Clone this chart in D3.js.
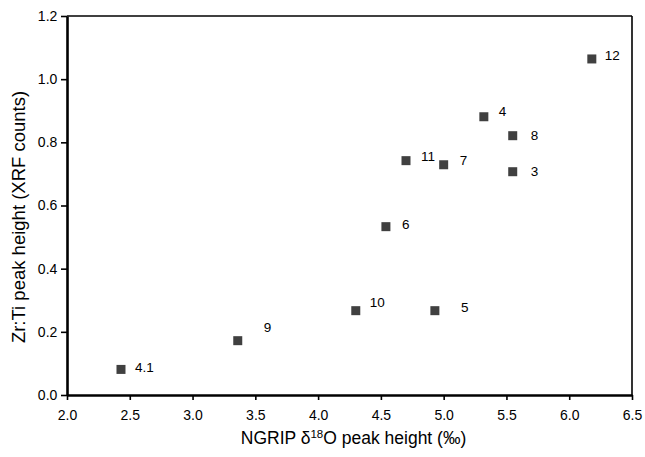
<!DOCTYPE html>
<html><head><meta charset="utf-8">
<script src="https://cdn.jsdelivr.net/npm/d3@7"></script>
<style>
html,body{margin:0;padding:0;background:#fff;}
text{font-family:"Liberation Sans",Arial,Helvetica,sans-serif;fill:#000;}
</style></head>
<body>
<svg id="chart" width="645" height="457"></svg>
<script>
// Data
const labels = ["4.1","9","10","5","6","11","7","4","8","3","12"];
const d18O   = [2.43, 3.36, 4.30, 4.93, 4.54, 4.70, 5.00, 5.32, 5.55, 5.55, 6.18];
const zrTi   = [0.081, 0.172, 0.267, 0.267, 0.533, 0.742, 0.729, 0.881, 0.821, 0.707, 1.064];
const xTicks = [2.0, 2.5, 3.0, 3.5, 4.0, 4.5, 5.0, 5.5, 6.0, 6.5];
const yTicks = [0.0, 0.2, 0.4, 0.6, 0.8, 1.0, 1.2];

// Layout (label placement relative to marker, px)
const labelOffset = {"4.1":[14,-2],"9":[26,-13],"10":[14,-8],"5":[26,-3],"6":[16,-2],
  "11":[15,-4],"7":[16,-4],"4":[15,-5],"8":[18,0],"3":[18,0],"12":[13,-4]};

const svg = d3.select("#chart");
const L = 67, R = 632, T = 16, B = 395;
const x = d3.scaleLinear().domain([2.0, 6.5]).range([L, R]);
const y = d3.scaleLinear().domain([0, 1.2]).range([B, T]);

// top & right frame
svg.append("line").attr("x1",L).attr("x2",R).attr("y1",T).attr("y2",T).attr("stroke","#000").attr("stroke-width",1.6);
svg.append("line").attr("x1",R).attr("x2",R).attr("y1",T).attr("y2",B).attr("stroke","#000").attr("stroke-width",1.6);

const xAxis = svg.append("g").attr("transform",`translate(0,${B})`)
  .call(d3.axisBottom(x).tickValues(xTicks).tickFormat(d3.format(".1f")).tickSize(5).tickSizeOuter(0));
const yAxis = svg.append("g").attr("transform",`translate(${L},0)`)
  .call(d3.axisLeft(y).tickValues(yTicks).tickFormat(d3.format(".1f")).tickSize(6).tickSizeOuter(0));
[xAxis,yAxis].forEach(g=>{
  g.select(".domain").attr("stroke","#000").attr("stroke-width",2.6);
  g.selectAll(".tick line").attr("stroke","#000").attr("stroke-width",1.6);
  g.selectAll(".tick text").attr("font-size",14).attr("font-family","Liberation Sans, Arial, sans-serif").attr("fill","#000");
});
xAxis.selectAll(".tick text").attr("dy","1.2em");
yAxis.selectAll(".tick text").attr("dx","-0.05em");

// markers
const pts = labels.map((l,i)=>({l, x:d18O[i], y:zrTi[i]}));
const s = 9;
svg.append("g").selectAll("rect").data(pts).join("rect")
  .attr("x",d=>x(d.x)-s/2).attr("y",d=>y(d.y)-s/2).attr("width",s).attr("height",s)
  .attr("fill","#404040");
svg.append("g").selectAll("text").data(pts).join("text")
  .attr("x",d=>x(d.x)+labelOffset[d.l][0]).attr("y",d=>y(d.y)+labelOffset[d.l][1])
  .attr("dy","0.35em").attr("font-size",13.5).text(d=>d.l);

// axis titles
const xt = svg.append("text").attr("x",(L+R)/2 + 4).attr("y",444).attr("text-anchor","middle").attr("font-size",17.5);
xt.append("tspan").text("NGRIP δ");
xt.append("tspan").attr("font-size",11.5).attr("dy",-6.5).text("18");
xt.append("tspan").attr("dy",6.5).text("O peak height (‰)");

svg.append("text").attr("transform",`translate(25,217) rotate(-90)`)
  .attr("text-anchor","middle").attr("font-size",18.5).text("Zr:Ti peak height (XRF counts)");
</script>
</body></html>
